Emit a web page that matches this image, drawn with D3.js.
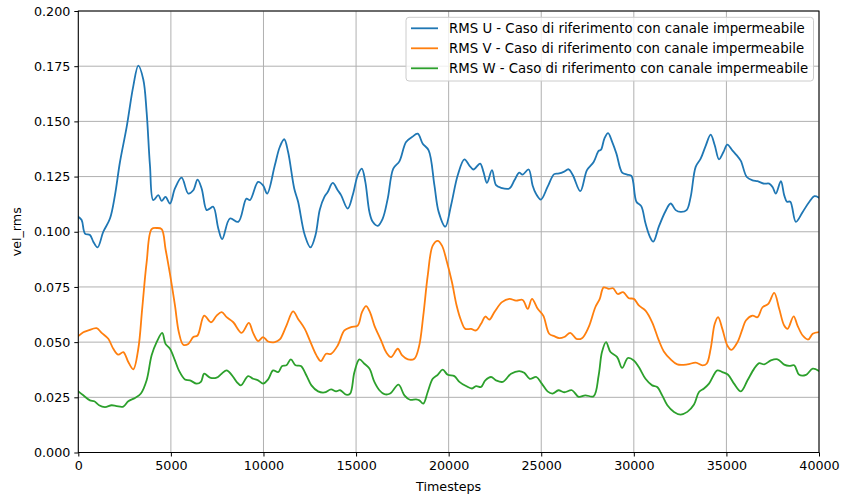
<!DOCTYPE html>
<html>
<head>
<meta charset="utf-8">
<script src="https://cdn.jsdelivr.net/npm/d3@7"></script>
<style>
  html, body { margin: 0; padding: 0; background: #fff; }
  svg { display: block; }
  text { font-family: "DejaVu Sans", sans-serif; fill: #000; }
</style>
</head>
<body>
<svg id="chart" width="842" height="497"></svg>
<script>
// RMS U
const uSteps = [0,180,360,630,810,1040,1350,1710,1980,2250,2610,2970,3240,3510,3690,3870,4050,4320,4500,4710,4950,5220,5580,5940,6210,6440,6660,6930,7100,7290,7560,7770,8190,8640,9080,9270,9710,9980,10200,10610,10880,11120,11330,11660,11870,12230,12540,12810,13040,13290,13470,13740,14010,14190,14550,14820,15090,15310,15500,15720,15900,16170,16440,16710,17010,17340,17700,18020,18330,18600,18920,19230,19460,19820,20130,20490,20850,21120,21340,21700,21880,22070,22340,22560,22830,23280,23550,23810,23990,24320,24530,24710,24980,25340,25700,25970,26210,26480,26710,27110,27470,27830,28100,28230,28410,28610,28830,29060,29370,29640,29870,30140,30400,30630,30870,31050,31350,31710,31990,32260,32530,32850,33070,33340,33610,33880,34150,34370,34600,34840,35050,35320,35560,35780,36100,36410,36680,37040,37310,37490,37670,37940,38120,38270,38450,38750,39120,39480,39750,40000];
const uValues = [0.1068,0.1053,0.0992,0.0985,0.0955,0.0929,0.1000,0.1060,0.1166,0.1316,0.1474,0.1660,0.1753,0.1690,0.1542,0.1300,0.1143,0.1166,0.1140,0.1158,0.1128,0.1196,0.1245,0.1173,0.1188,0.1236,0.1196,0.1098,0.1105,0.1113,0.1015,0.0967,0.1060,0.1045,0.1150,0.1143,0.1226,0.1210,0.1173,0.1300,0.1384,0.1419,0.1361,0.1196,0.1136,0.0985,0.0929,0.0985,0.1100,0.1158,0.1180,0.1221,0.1188,0.1166,0.1105,0.1166,0.1256,0.1286,0.1226,0.1090,0.1045,0.1027,0.1060,0.1150,0.1286,0.1319,0.1407,0.1429,0.1444,0.1399,0.1369,0.1211,0.1090,0.1023,0.1120,0.1256,0.1328,0.1300,0.1282,0.1309,0.1271,0.1221,0.1279,0.1211,0.1199,0.1196,0.1233,0.1268,0.1259,0.1282,0.1211,0.1173,0.1146,0.1203,0.1261,0.1264,0.1271,0.1283,0.1256,0.1184,0.1279,0.1316,0.1366,0.1372,0.1422,0.1447,0.1407,0.1354,0.1268,0.1259,0.1253,0.1136,0.1116,0.1038,0.0977,0.0955,0.1023,0.1093,0.1128,0.1098,0.1090,0.1098,0.1158,0.1294,0.1331,0.1389,0.1440,0.1392,0.1328,0.1361,0.1395,0.1369,0.1346,0.1321,0.1248,0.1233,0.1229,0.1218,0.1218,0.1203,0.1173,0.1229,0.1166,0.1136,0.1136,0.1045,0.1090,0.1136,0.1161,0.1154];

// RMS V
const vSteps = [0,270,540,990,1260,1620,1890,2160,2430,2700,2970,3240,3450,3690,3960,4230,4500,4710,4950,5220,5430,5670,5940,6210,6440,6800,7160,7470,7740,8010,8370,8820,9210,9440,9710,9980,10250,10610,10880,11240,11600,11870,12230,12500,12860,13100,13380,13650,14010,14370,14730,15090,15320,15540,15750,15990,16350,16620,16890,17250,17490,17800,18150,18400,18630,18870,19140,19410,19640,19890,20180,20430,20670,20900,21210,21480,21750,21980,22200,22470,22880,23280,23640,24000,24270,24500,24810,25110,25430,25700,25970,26240,26570,26900,27200,27560,27920,28160,28370,28650,28880,29130,29420,29730,30000,30270,30630,30990,31350,31620,31990,32350,32890,33340,33700,33930,34150,34370,34550,34780,35050,35270,35600,35870,36050,36410,36680,36950,37260,37580,37850,38120,38300,38630,38840,39120,39420,39660,40000];
const vValues = [0.0527,0.0545,0.0553,0.0563,0.0542,0.0515,0.0470,0.0443,0.0455,0.0410,0.0377,0.0470,0.0651,0.0861,0.1012,0.1017,0.1012,0.0922,0.0809,0.0666,0.0545,0.0488,0.0492,0.0523,0.0530,0.0620,0.0590,0.0620,0.0636,0.0613,0.0590,0.0542,0.0587,0.0542,0.0505,0.0523,0.0503,0.0500,0.0512,0.0575,0.0639,0.0605,0.0560,0.0508,0.0440,0.0414,0.0447,0.0447,0.0485,0.0553,0.0568,0.0575,0.0636,0.0663,0.0636,0.0575,0.0508,0.0455,0.0432,0.0470,0.0440,0.0422,0.0425,0.0480,0.0620,0.0801,0.0937,0.0959,0.0937,0.0869,0.0771,0.0666,0.0598,0.0560,0.0560,0.0553,0.0583,0.0616,0.0602,0.0636,0.0681,0.0696,0.0688,0.0691,0.0651,0.0696,0.0651,0.0620,0.0538,0.0527,0.0518,0.0523,0.0542,0.0515,0.0518,0.0568,0.0658,0.0696,0.0748,0.0741,0.0744,0.0718,0.0726,0.0699,0.0696,0.0666,0.0643,0.0590,0.0508,0.0458,0.0422,0.0399,0.0399,0.0407,0.0395,0.0402,0.0470,0.0583,0.0613,0.0560,0.0485,0.0465,0.0500,0.0560,0.0598,0.0620,0.0613,0.0658,0.0673,0.0723,0.0651,0.0575,0.0560,0.0617,0.0575,0.0530,0.0512,0.0538,0.0545];

// RMS W
const wSteps = [0,270,630,860,1120,1440,1800,2070,2430,2700,3060,3380,3690,3960,4230,4530,4710,4950,5220,5430,5760,6030,6390,6620,6800,7110,7470,7740,8010,8280,8550,8780,9170,9440,9710,9980,10250,10520,10790,11010,11240,11480,11730,12020,12320,12590,12950,13290,13650,13920,14140,14460,14680,14910,15180,15450,15720,15990,16260,16530,16840,17290,17610,17910,18240,18420,18630,18870,19140,19410,19680,19950,20310,20580,20940,21260,21480,21750,21980,22290,22560,22920,23370,23810,24080,24380,24740,25030,25340,25610,25930,26240,26660,27020,27380,27830,28100,28280,28500,28740,29100,29370,29680,30000,30270,30630,30990,31260,31530,31810,32170,32530,32890,33250,33520,33790,34060,34510,34780,35090,35410,35780,36140,36500,36770,37040,37400,37760,38120,38390,38660,38930,39300,39660,40000];
const wValues = [0.0277,0.0259,0.0236,0.0232,0.0214,0.0206,0.0214,0.0210,0.0208,0.0232,0.0247,0.0267,0.0327,0.0440,0.0500,0.0542,0.0492,0.0470,0.0417,0.0372,0.0331,0.0327,0.0312,0.0320,0.0357,0.0339,0.0339,0.0357,0.0372,0.0352,0.0320,0.0304,0.0346,0.0334,0.0327,0.0312,0.0331,0.0372,0.0364,0.0392,0.0395,0.0422,0.0395,0.0392,0.0349,0.0304,0.0277,0.0272,0.0286,0.0277,0.0282,0.0262,0.0267,0.0364,0.0422,0.0402,0.0380,0.0320,0.0282,0.0264,0.0267,0.0307,0.0259,0.0239,0.0241,0.0236,0.0221,0.0274,0.0334,0.0352,0.0375,0.0352,0.0346,0.0320,0.0301,0.0290,0.0301,0.0297,0.0327,0.0342,0.0327,0.0320,0.0357,0.0369,0.0361,0.0334,0.0342,0.0312,0.0277,0.0267,0.0282,0.0273,0.0282,0.0252,0.0259,0.0255,0.0349,0.0455,0.0500,0.0455,0.0432,0.0383,0.0428,0.0417,0.0387,0.0334,0.0304,0.0297,0.0259,0.0214,0.0184,0.0172,0.0184,0.0217,0.0274,0.0290,0.0312,0.0372,0.0364,0.0352,0.0312,0.0277,0.0327,0.0380,0.0405,0.0399,0.0417,0.0422,0.0398,0.0392,0.0395,0.0352,0.0352,0.0380,0.0369];

const seriesNames = [
  "RMS U - Caso di riferimento con canale impermeabile",
  "RMS V - Caso di riferimento con canale impermeabile",
  "RMS W - Caso di riferimento con canale impermeabile"
];
const seriesColors = ["#1f77b4", "#ff7f0e", "#2ca02c"];
const xTicks = [0, 5000, 10000, 15000, 20000, 25000, 30000, 35000, 40000];
const yTicks = [0, 0.025, 0.05, 0.075, 0.1, 0.125, 0.15, 0.175, 0.2];

const series = [
  { name: seriesNames[0], color: seriesColors[0], pts: uSteps.map((t, i) => [t, uValues[i]]) },
  { name: seriesNames[1], color: seriesColors[1], pts: vSteps.map((t, i) => [t, vValues[i]]) },
  { name: seriesNames[2], color: seriesColors[2], pts: wSteps.map((t, i) => [t, wValues[i]]) }
];

const W = 842, H = 497;
const margin = { top: 11, right: 23, bottom: 44.5, left: 78.3 };
const svg = d3.select("#chart");

const x = d3.scaleLinear().domain([0, 40000]).range([margin.left, W - margin.right]);
const y = d3.scaleLinear().domain([0, 0.2]).range([H - margin.bottom, margin.top]);

// grid
const grid = svg.append("g").attr("stroke", "#b0b0b0").attr("stroke-width", 1);
grid.selectAll("line.gx").data(xTicks).join("line")
  .attr("x1", d => x(d)).attr("x2", d => x(d))
  .attr("y1", margin.top).attr("y2", H - margin.bottom);
grid.selectAll("line.gy").data(yTicks).join("line")
  .attr("y1", d => y(d)).attr("y2", d => y(d))
  .attr("x1", margin.left).attr("x2", W - margin.right);

// lines
const clipId = "plotclip";
svg.append("clipPath").attr("id", clipId).append("rect")
  .attr("x", margin.left).attr("y", margin.top)
  .attr("width", W - margin.right - margin.left).attr("height", H - margin.bottom - margin.top);

const line = d3.line()
  .x(d => x(d[0])).y(d => y(d[1]))
  .curve(d3.curveCatmullRom.alpha(0.5));

svg.append("g").attr("clip-path", `url(#${clipId})`)
  .selectAll("path").data(series).join("path")
  .attr("d", d => line(d.pts))
  .attr("fill", "none")
  .attr("stroke", d => d.color)
  .attr("stroke-width", 1.8)
  .attr("stroke-linejoin", "round")
  .attr("stroke-linecap", "square");

// axes
const fs = 12.7;
const legendFs = 13.3;
const xAxis = svg.append("g")
  .attr("transform", `translate(0,${H - margin.bottom})`)
  .call(d3.axisBottom(x).tickValues(xTicks).tickFormat(d3.format("d")).tickSizeOuter(0).tickSize(4).tickPadding(4));
const yAxis = svg.append("g")
  .attr("transform", `translate(${margin.left},0)`)
  .call(d3.axisLeft(y).tickValues(yTicks).tickFormat(d3.format(".3f")).tickSizeOuter(0).tickSize(4).tickPadding(4));
[xAxis, yAxis].forEach(g => {
  g.select(".domain").remove();
  g.selectAll(".tick line").attr("stroke", "#000").attr("stroke-width", 1);
  g.selectAll(".tick text").attr("font-family", "DejaVu Sans").attr("font-size", fs).attr("fill", "#000");
});

// frame
svg.append("rect")
  .attr("x", margin.left).attr("y", margin.top)
  .attr("width", W - margin.right - margin.left).attr("height", H - margin.bottom - margin.top)
  .attr("fill", "none").attr("stroke", "#000").attr("stroke-width", 1);

// axis titles
svg.append("text")
  .attr("x", (margin.left + W - margin.right) / 2).attr("y", 491)
  .attr("text-anchor", "middle").attr("font-size", fs).text("Timesteps");
svg.append("text")
  .attr("transform", `translate(21,${(margin.top + H - margin.bottom) / 2}) rotate(-90)`)
  .attr("text-anchor", "middle").attr("font-size", fs).text("vel_rms");

// legend
const lg = svg.append("g");
lg.append("rect")
  .attr("x", 406).attr("y", 17.3).attr("width", 407.5).attr("height", 63.7)
  .attr("rx", 3).attr("fill", "#fff").attr("fill-opacity", 0.8)
  .attr("stroke", "#cccccc").attr("stroke-width", 1);
const rows = lg.selectAll("g.row").data(series).join("g")
  .attr("transform", (d, i) => `translate(0,${28.3 + i * 20})`);
rows.append("line")
  .attr("x1", 411).attr("x2", 438).attr("y1", 0).attr("y2", 0)
  .attr("stroke", d => d.color).attr("stroke-width", 1.8);
rows.append("text")
  .attr("x", 449).attr("y", 0).attr("dy", "0.35em")
  .attr("font-size", legendFs).text(d => d.name);
</script>
</body>
</html>
